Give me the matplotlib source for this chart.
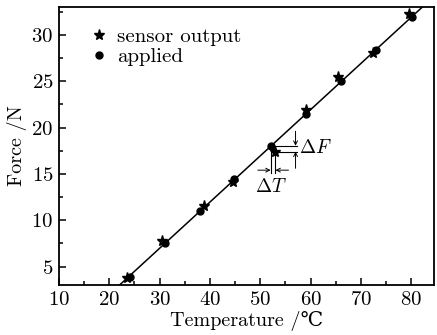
import numpy as np
from matplotlib import pyplot as plt

plt.rcParams['font.family'] = ['cmr10', 'DejaVu Serif']
plt.rcParams['mathtext.fontset'] = 'cm'
plt.rcParams['axes.formatter.use_mathtext'] = True

# applied force vs temperature
applied_T = [24.1, 31.0, 38.0, 44.8, 52.06, 59.0, 66.1, 72.9, 80.2]
applied_F = [3.9, 7.5, 11.0, 14.4, 18.03, 21.5, 25.0, 28.35, 31.9]

# sensor output
sensor_T = [23.55, 30.4, 38.8, 44.5, 53.0, 59.1, 65.4, 72.4, 79.5]
sensor_F = [3.72, 7.8, 11.55, 14.1, 17.4, 21.9, 25.5, 28.0, 32.3]

fig = plt.figure(figsize=(4.37, 3.35), dpi=100)
ax = fig.add_axes([0.135, 0.149, 0.858, 0.830])

# fitted line through applied points
k, b = np.polyfit(applied_T, applied_F, 1)
xs = np.array([10, 85])
ax.plot(xs, k * xs + b, color='black', lw=1.1, zorder=1)

ax.plot(sensor_T, sensor_F, '*', color='black', ms=8, label='sensor output', zorder=3)
ax.plot(applied_T, applied_F, 'o', color='black', ms=5, label='applied', zorder=2)

# delta annotations at the 5th point
i = 4
t_dot, f_dot = applied_T[i], applied_F[i]
t_star, f_star = sensor_T[i], sensor_F[i]
lw = 0.8
ax.plot([t_dot, 57.3], [f_dot, f_dot], color='black', lw=lw)
ax.plot([t_star, 57.3], [f_star, f_star], color='black', lw=lw)
ax.plot([t_dot, t_dot], [f_dot, 15.1], color='black', lw=lw)
ax.plot([t_star, t_star], [f_star, 15.1], color='black', lw=lw)
arw = dict(arrowstyle='->', lw=0.7, color='black', shrinkA=0, shrinkB=0, mutation_scale=7)
ax.annotate('', xy=(57.0, f_dot), xytext=(57.0, 19.6), arrowprops=arw)
ax.annotate('', xy=(57.0, f_star), xytext=(57.0, 15.6), arrowprops=arw)
ax.annotate('', xy=(t_dot, 15.4), xytext=(49.5, 15.4), arrowprops=arw)
ax.annotate('', xy=(t_star, 15.4), xytext=(55.6, 15.4), arrowprops=arw)
ax.text(57.7, 17.8, r'$\Delta F$', fontsize=14, va='center', ha='left')
ax.text(52.1, 13.6, r'$\Delta T$', fontsize=14, va='center', ha='center')

ax.set_xlim(10, 84.5)
ax.set_ylim(3, 33)
ax.set_xticks([10, 20, 30, 40, 50, 60, 70, 80])
ax.set_xticks(np.arange(15, 85, 10), minor=True)
ax.set_yticks([5, 10, 15, 20, 25, 30])
ax.set_yticks(np.arange(7.5, 33, 5), minor=True)
ax.tick_params(which='both', direction='in', labelsize=15, width=1.1)
ax.tick_params(which='major', length=5, pad=4)
ax.tick_params(which='minor', length=3)
for s in ax.spines.values():
    s.set_linewidth(1.3)

ax.set_xlabel('Temperature /℃', fontsize=14.5, labelpad=2)
ax.set_ylabel('Force /N', fontsize=14.5, labelpad=3)

ax.legend(loc='upper left', bbox_to_anchor=(0.05, 0.97), frameon=False,
          fontsize=15, handlelength=0.8, handletextpad=0.5,
          labelspacing=0.05, borderaxespad=0.2)

fig.savefig('out.png', dpi=100)
